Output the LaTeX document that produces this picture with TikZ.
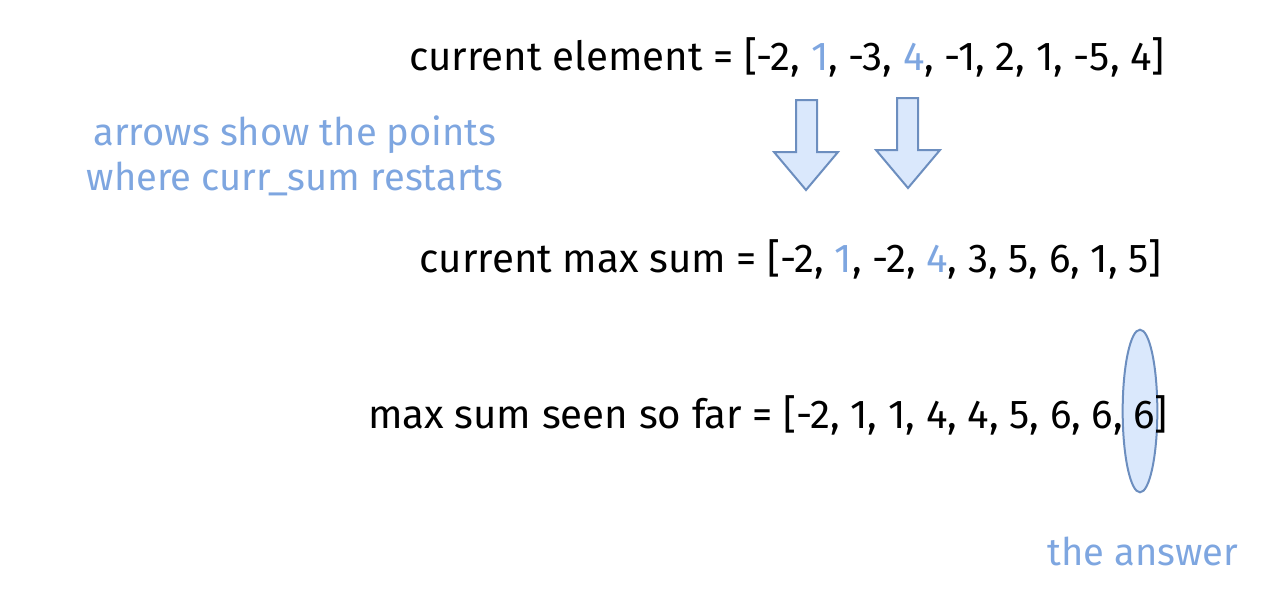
\documentclass[tikz,border=0pt]{standalone}
\usepackage{fontspec}
\setmainfont{Fira Sans}
\usetikzlibrary{shapes.geometric}
\definecolor{tblue}{HTML}{7EA6E0}
\definecolor{afill}{HTML}{DAE8FC}
\definecolor{astroke}{HTML}{6C8EBF}
\tikzset{
  main/.style={font=\fontsize{30.2}{34}\selectfont, text=black, inner sep=0pt, anchor=base east},
  note/.style={font=\fontsize{28.6}{33.75}\selectfont, text=tblue, inner sep=0pt},
  bigarrow/.style={draw=astroke, fill=afill, line width=1.5pt, line join=miter}
}
\begin{document}
\begin{tikzpicture}[x=0.75pt,y=-0.75pt]
\useasboundingbox (0,0) rectangle (1272,604);
% arrows
\draw[bigarrow] (796,100) -- (817,100) -- (817,152) -- (838,152) -- (806,190) -- (774,152) -- (796,152) -- cycle;
\draw[bigarrow] (897,98) -- (918,98) -- (918,150) -- (940,150) -- (908,188) -- (876,150) -- (897,150) -- cycle;
% ellipse
\node[ellipse, draw=astroke, fill=afill, line width=1.5pt, minimum width=26pt, minimum height=122pt, inner sep=0pt] (ans) at (1140,411) {};
\node[main] (l1) at (1165,70) {current element = [-2, {\color{tblue}1}, -3, {\color{tblue}4}, -1, 2, 1, -5, 4]};
\node[main] (l2) at (1162,272) {current max sum = [-2, {\color{tblue}1}, -2, {\color{tblue}4}, 3, 5, 6, 1, 5]};
\node[main] (l3) at (1168,428) {max sum seen so far = [-2, 1, 1, 4, 4, 5, 6, 6, 6]};
\node[note, align=center, anchor=base] (n1) at (295,190) {arrows show the points\\where curr\_sum restarts};
\node[note, anchor=base] (n2) at (1143,565) {the answer};
\end{tikzpicture}
\end{document}
